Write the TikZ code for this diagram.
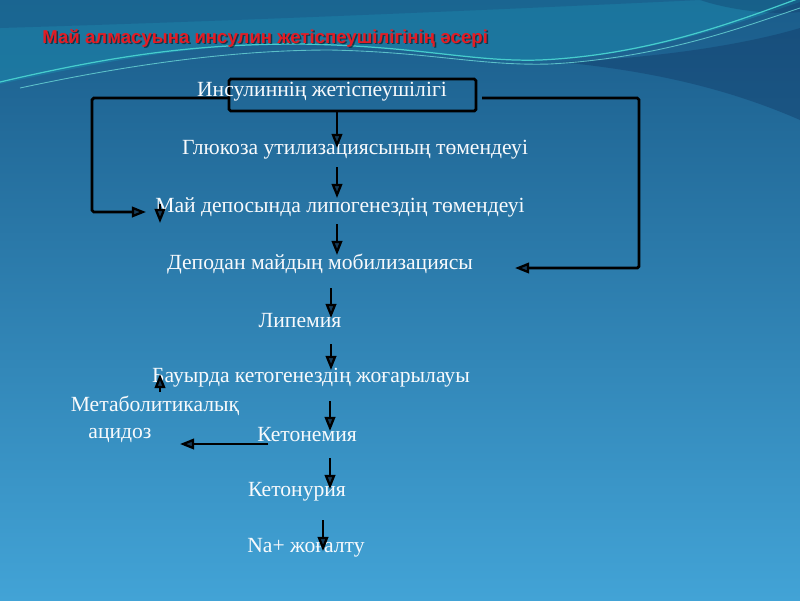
\documentclass[tikz,border=0pt]{standalone}
\usepackage{fontspec}
\setmainfont{Liberation Serif}
\newfontfamily\titlefont{Liberation Sans}
\usetikzlibrary{arrows.meta}
\definecolor{bgtop}{RGB}{26,92,138}
\definecolor{bgbot}{RGB}{66,163,214}
\definecolor{tealband}{RGB}{28,130,168}
\definecolor{cyanline}{RGB}{70,205,205}
\definecolor{navy}{RGB}{18,60,105}
\definecolor{titlered}{RGB}{228,28,36}
\definecolor{txt}{RGB}{248,250,252}
\definecolor{tipfill}{RGB}{20,60,90}
\begin{document}
\begin{tikzpicture}[x=0.02cm,y=-0.02cm,
  lbl/.style={text=txt, font=\fontsize{12.3pt}{14pt}\selectfont, inner sep=0pt},
  arr/.style={line width=1.6pt, draw=black, -{Triangle[length=8pt, width=6pt, line width=1.3pt, fill=tipfill]}},
  boxstyle/.style={draw=black, line width=1.6pt, rounded corners=1pt, minimum width=247*0.02cm, minimum height=32*0.02cm, inner sep=0pt}]
\useasboundingbox (0,0) rectangle (800,600);
% background
\shade[top color=bgtop, bottom color=bgbot] (0,0) rectangle (800,600);
\fill[tealband, opacity=0.65] (0,0) -- (0,84) .. controls (120,58) and (200,44) .. (300,44) .. controls (420,46) and (470,62) .. (540,60) .. controls (650,56) and (740,22) .. (800,2) -- (800,0) -- cycle;
\fill[bgtop, opacity=0.6] (0,0) -- (0,28) .. controls (200,22) and (450,12) .. (700,0) -- cycle;
\fill[navy, opacity=0.35] (700,0) .. controls (730,10) and (770,15) .. (800,12) -- (800,0) -- cycle;
\fill[navy, opacity=0.45] (560,62) .. controls (680,57) and (760,40) .. (800,28) -- (800,120) .. controls (720,85) and (640,70) .. (560,62) -- cycle;
\draw[cyanline, line width=0.7pt] (0,82) .. controls (120,54) and (200,44) .. (300,44) .. controls (420,46) and (470,62) .. (540,60) .. controls (650,55) and (740,20) .. (800,-2);
\draw[cyanline!80!white, line width=0.5pt, opacity=0.8] (20,88) .. controls (150,60) and (250,50) .. (330,50) .. controls (430,52) and (480,66) .. (550,64) .. controls (660,58) and (740,28) .. (800,8);
% title
\node[anchor=west, text=black, opacity=0.5, font=\titlefont\bfseries\fontsize{10.6pt}{12pt}\selectfont, inner sep=0pt] (titleshadow) at (43.5,39.5) {Май алмасуына инсулин жетіспеушілігінің әсері};
\node[anchor=west, text=titlered, font=\titlefont\bfseries\fontsize{10.6pt}{12pt}\selectfont, inner sep=0pt] (title) at (42,38) {Май алмасуына инсулин жетіспеушілігінің әсері};
% box
\node[boxstyle] (box) at (352.5,95) {};
% labels
\node[lbl] (t0) at (322,92) {Инсулиннің жетіспеушілігі};
\node[lbl] (t1) at (355,150) {Глюкоза утилизациясының төмендеуі};
\node[lbl] (t2) at (340,207) {Май депосында липогенездің төмендеуі};
\node[lbl] (t3) at (320,264) {Деподан майдың мобилизациясы};
\node[lbl] (t4) at (300,321) {Липемия};
\node[lbl] (t5) at (311,378) {Бауырда кетогенездің жоғарылауы};
\node[lbl] (t6a) at (155,406) {Метаболитикалық};
\node[lbl] (t6b) at (120,435) {ацидоз};
\node[lbl] (t7) at (307,435) {Кетонемия};
\node[lbl] (t8) at (297,492) {Кетонурия};
\node[lbl] (t9) at (306,548) {Na+ жоғалту};
% arrow end points
\coordinate (a1s) at (337,111); \coordinate (a1e) at (337,148);
\coordinate (a2s) at (337,167); \coordinate (a2e) at (337,198);
\coordinate (a3s) at (337,224); \coordinate (a3e) at (337,255);
\coordinate (a4s) at (331,288); \coordinate (a4e) at (331,318);
\coordinate (a5s) at (331,344); \coordinate (a5e) at (331,370);
\coordinate (a6s) at (330,401); \coordinate (a6e) at (330,431);
\coordinate (a7s) at (330,458); \coordinate (a7e) at (330,489);
\coordinate (a8s) at (323,520); \coordinate (a8e) at (323,551);
\coordinate (kl) at (268,444); \coordinate (klend) at (180,444);
\coordinate (up1) at (160,392); \coordinate (up2) at (160,374);
\coordinate (dn1) at (160,204); \coordinate (dn2) at (160,223);
\coordinate (ls) at (229,98); \coordinate (lc1) at (92,98); \coordinate (lc2) at (92,212); \coordinate (le) at (146,212);
\coordinate (rs) at (482,98); \coordinate (rc1) at (639,98); \coordinate (rc2) at (639,268); \coordinate (re) at (515,268);
% connectors
\draw[arr] (a1s) -- (a1e);
\draw[arr] (a2s) -- (a2e);
\draw[arr] (a3s) -- (a3e);
\draw[arr] (a4s) -- (a4e);
\draw[arr] (a5s) -- (a5e);
\draw[arr] (a6s) -- (a6e);
\draw[arr] (a7s) -- (a7e);
\draw[arr] (a8s) -- (a8e);
\draw[arr] (kl) -- (klend);
\draw[arr] (up1) -- (up2);
\draw[arr] (dn1) -- (dn2);
\draw[arr, rounded corners=1pt] (ls) -- (lc1) -- (lc2) -- (le);
\draw[arr, rounded corners=1pt] (rs) -- (rc1) -- (rc2) -- (re);
\end{tikzpicture}
\end{document}
